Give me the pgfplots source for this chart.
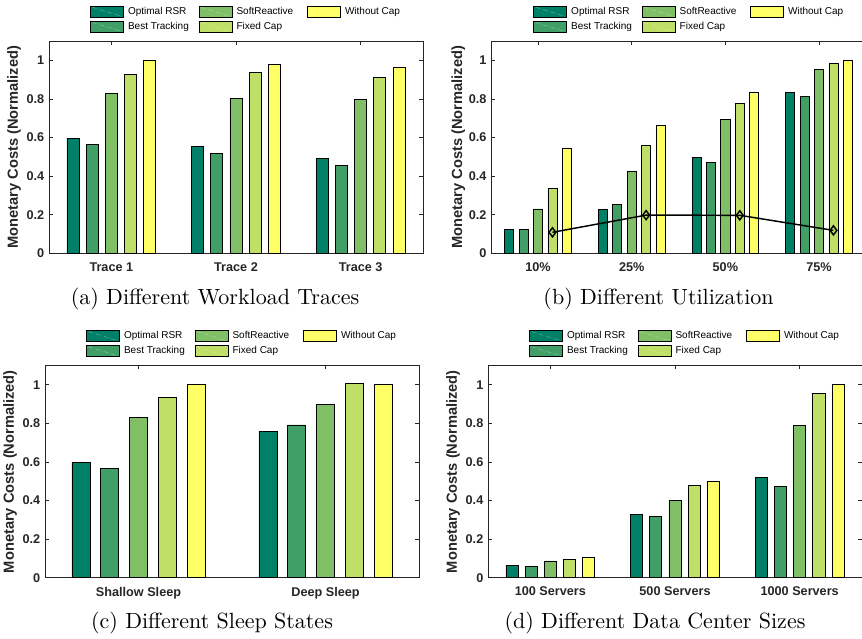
\documentclass[border=0pt]{standalone}
\usepackage{pgfplots}
\pgfplotsset{compat=1.18}
\usepackage{fontspec}
\newfontfamily\hel{Liberation Sans}
\newfontfamily\capfont{lmroman10-regular}[Extension=.otf]
\definecolor{c1}{rgb}{0,0.5,0.4}
\definecolor{c2}{rgb}{0.25,0.625,0.4}
\definecolor{c3}{rgb}{0.5,0.75,0.4}
\definecolor{c4}{rgb}{0.75,0.875,0.4}
\definecolor{c5}{rgb}{1,1,0.4}
\definecolor{axgray}{rgb}{0.15,0.15,0.15}
\newcommand\lgd[1]{\makebox[50pt][l]{#1}}
\pgfplotsset{
  panel/.style={
    scale only axis, anchor=south west,
    height=159.2pt,
    ymin=0, ymax=1.1,
    ytick={0,0.2,0.4,0.6,0.8,1},
    yticklabels={0,0.2,0.4,0.6,0.8,1},
    tick align=inside, xtick pos=both, ytick pos=both,
    major tick length=3pt,
    axis line style={axgray, line width=0.6pt},
    every tick/.style={axgray, line width=0.6pt},
    tick label style={font=\hel\bfseries\fontsize{9.5}{11}\selectfont, text=axgray},
    xticklabel style={yshift=-3.5pt},
    /pgf/number format/assume math mode=true,
    ylabel={Monetary Costs (Normalized)},
    ylabel style={font=\hel\bfseries\fontsize{11}{13}\selectfont, text=axgray, at={(axis description cs:-0.0936,0.5)}, anchor=center},
    legend columns=3,
    legend cell align=left,
    legend style={draw=none, fill=none, inner sep=0pt, row sep=2.5pt,
      at={(axis description cs:0.1096,1.167)}, anchor=north west,
      font=\hel\fontsize{7.5}{9}\selectfont,
      nodes={inner xsep=3pt, inner ysep=0pt, text height=6pt, text depth=2pt}},
    legend image code/.code={
      \draw[#1] (0cm,-0.145cm) rectangle (0.87cm,0.145cm);
      \draw[white, opacity=0.35, line width=0.3pt, dashed] (0.05cm,0.12cm) -- (0.82cm,-0.12cm);
    },
  },
  b1/.style={ybar, bar width=0.097, bar shift=-0.3076, fill=c1, draw=black, line width=0.6pt},
  b2/.style={ybar, bar width=0.097, bar shift=-0.1538, fill=c2, draw=black, line width=0.6pt},
  b3/.style={ybar, bar width=0.097, bar shift=0, fill=c3, draw=black, line width=0.6pt},
  b4/.style={ybar, bar width=0.097, bar shift=0.1538, fill=c4, draw=black, line width=0.6pt},
  b5/.style={ybar, bar width=0.097, bar shift=0.3076, fill=c5, draw=black, line width=0.6pt},
}
\begin{document}
\begin{tikzpicture}
% (a)
\begin{axis}[panel, at={(36.75pt,288.5pt)}, width=280.5pt,
  xmin=0.5, xmax=3.5, xtick={1,2,3}, xticklabels={Trace 1,Trace 2,Trace 3}]
\addplot[b1] coordinates {(1,0.597) (2,0.556) (3,0.492)}; \addlegendentry{\lgd{Optimal RSR}}
\addplot[b3] coordinates {(1,0.829) (2,0.803) (3,0.798)}; \addlegendentry{\lgd{SoftReactive}}
\addplot[b5] coordinates {(1,1.0) (2,0.977) (3,0.964)}; \addlegendentry{\lgd{Without Cap}}
\addplot[b2] coordinates {(1,0.565) (2,0.518) (3,0.454)}; \addlegendentry{\lgd{Best Tracking}}
\addplot[b4] coordinates {(1,0.929) (2,0.938) (3,0.910)}; \addlegendentry{\lgd{Fixed Cap}}
\end{axis}
% (b)
\begin{axis}[panel, at={(368.4pt,288.5pt)}, width=281pt,
  ylabel style={at={(axis description cs:-0.088,0.5)}},
  legend style={at={(axis description cs:0.112,1.167)}},
  xmin=0.5, xmax=4.5, xtick={1,2,3,4}, xticklabels={10\%,25\%,50\%,75\%}]
\addplot[b1] coordinates {(1,0.124) (2,0.226) (3,0.497) (4,0.834)}; \addlegendentry{\lgd{Optimal RSR}}
\addplot[b3] coordinates {(1,0.230) (2,0.423) (3,0.692) (4,0.951)}; \addlegendentry{\lgd{SoftReactive}}
\addplot[b5] coordinates {(1,0.546) (2,0.665) (3,0.832) (4,1.0)}; \addlegendentry{\lgd{Without Cap}}
\addplot[b2] coordinates {(1,0.124) (2,0.252) (3,0.470) (4,0.815)}; \addlegendentry{\lgd{Best Tracking}}
\addplot[b4] coordinates {(1,0.338) (2,0.558) (3,0.775) (4,0.982)}; \addlegendentry{\lgd{Fixed Cap}}
\addplot[black, line width=1.1pt, mark=diamond, mark size=3.4pt, mark options={solid, line width=1.1pt}, forget plot]
  coordinates {(1.1538,0.109) (2.1538,0.198) (3.1538,0.197) (4.1538,0.119)};
\end{axis}
% (c)
\begin{axis}[panel, at={(33.75pt,45.2pt)}, width=280.5pt,
  xmin=0.5, xmax=2.5, xtick={1,2}, xticklabels={Shallow Sleep,Deep Sleep}]
\addplot[b1] coordinates {(1,0.598) (2,0.759)}; \addlegendentry{\lgd{Optimal RSR}}
\addplot[b3] coordinates {(1,0.832) (2,0.899)}; \addlegendentry{\lgd{SoftReactive}}
\addplot[b5] coordinates {(1,1.0) (2,1.0)}; \addlegendentry{\lgd{Without Cap}}
\addplot[b2] coordinates {(1,0.565) (2,0.792)}; \addlegendentry{\lgd{Best Tracking}}
\addplot[b4] coordinates {(1,0.932) (2,1.007)}; \addlegendentry{\lgd{Fixed Cap}}
\end{axis}
% (d)
\begin{axis}[panel, at={(366pt,45.2pt)}, width=280.5pt,
  xmin=0.5, xmax=3.5, xtick={1,2,3}, xticklabels={100 Servers,500 Servers,1000 Servers}]
\addplot[b1] coordinates {(1,0.062) (2,0.328) (3,0.518)}; \addlegendentry{\lgd{Optimal RSR}}
\addplot[b3] coordinates {(1,0.087) (2,0.399) (3,0.789)}; \addlegendentry{\lgd{SoftReactive}}
\addplot[b5] coordinates {(1,0.104) (2,0.501) (3,1.0)}; \addlegendentry{\lgd{Without Cap}}
\addplot[b2] coordinates {(1,0.059) (2,0.317) (3,0.471)}; \addlegendentry{\lgd{Best Tracking}}
\addplot[b4] coordinates {(1,0.097) (2,0.478) (3,0.955)}; \addlegendentry{\lgd{Fixed Cap}}
\end{axis}
\node[font=\capfont\fontsize{16.5}{20}\selectfont] at (161.25pt,254.25pt) {(a) Different Workload Traces};
\node[font=\capfont\fontsize{16.5}{20}\selectfont] at (493.9pt,254.25pt) {(b) Different Utilization};
\node[font=\capfont\fontsize{16.5}{20}\selectfont] at (159pt,11.25pt) {(c) Different Sleep States};
\node[font=\capfont\fontsize{16.5}{20}\selectfont] at (491.25pt,11.25pt) {(d) Different Data Center Sizes};
\pgfresetboundingbox
\useasboundingbox (0pt,0pt) rectangle (646.5pt,478.5pt);
\end{tikzpicture}
\end{document}
